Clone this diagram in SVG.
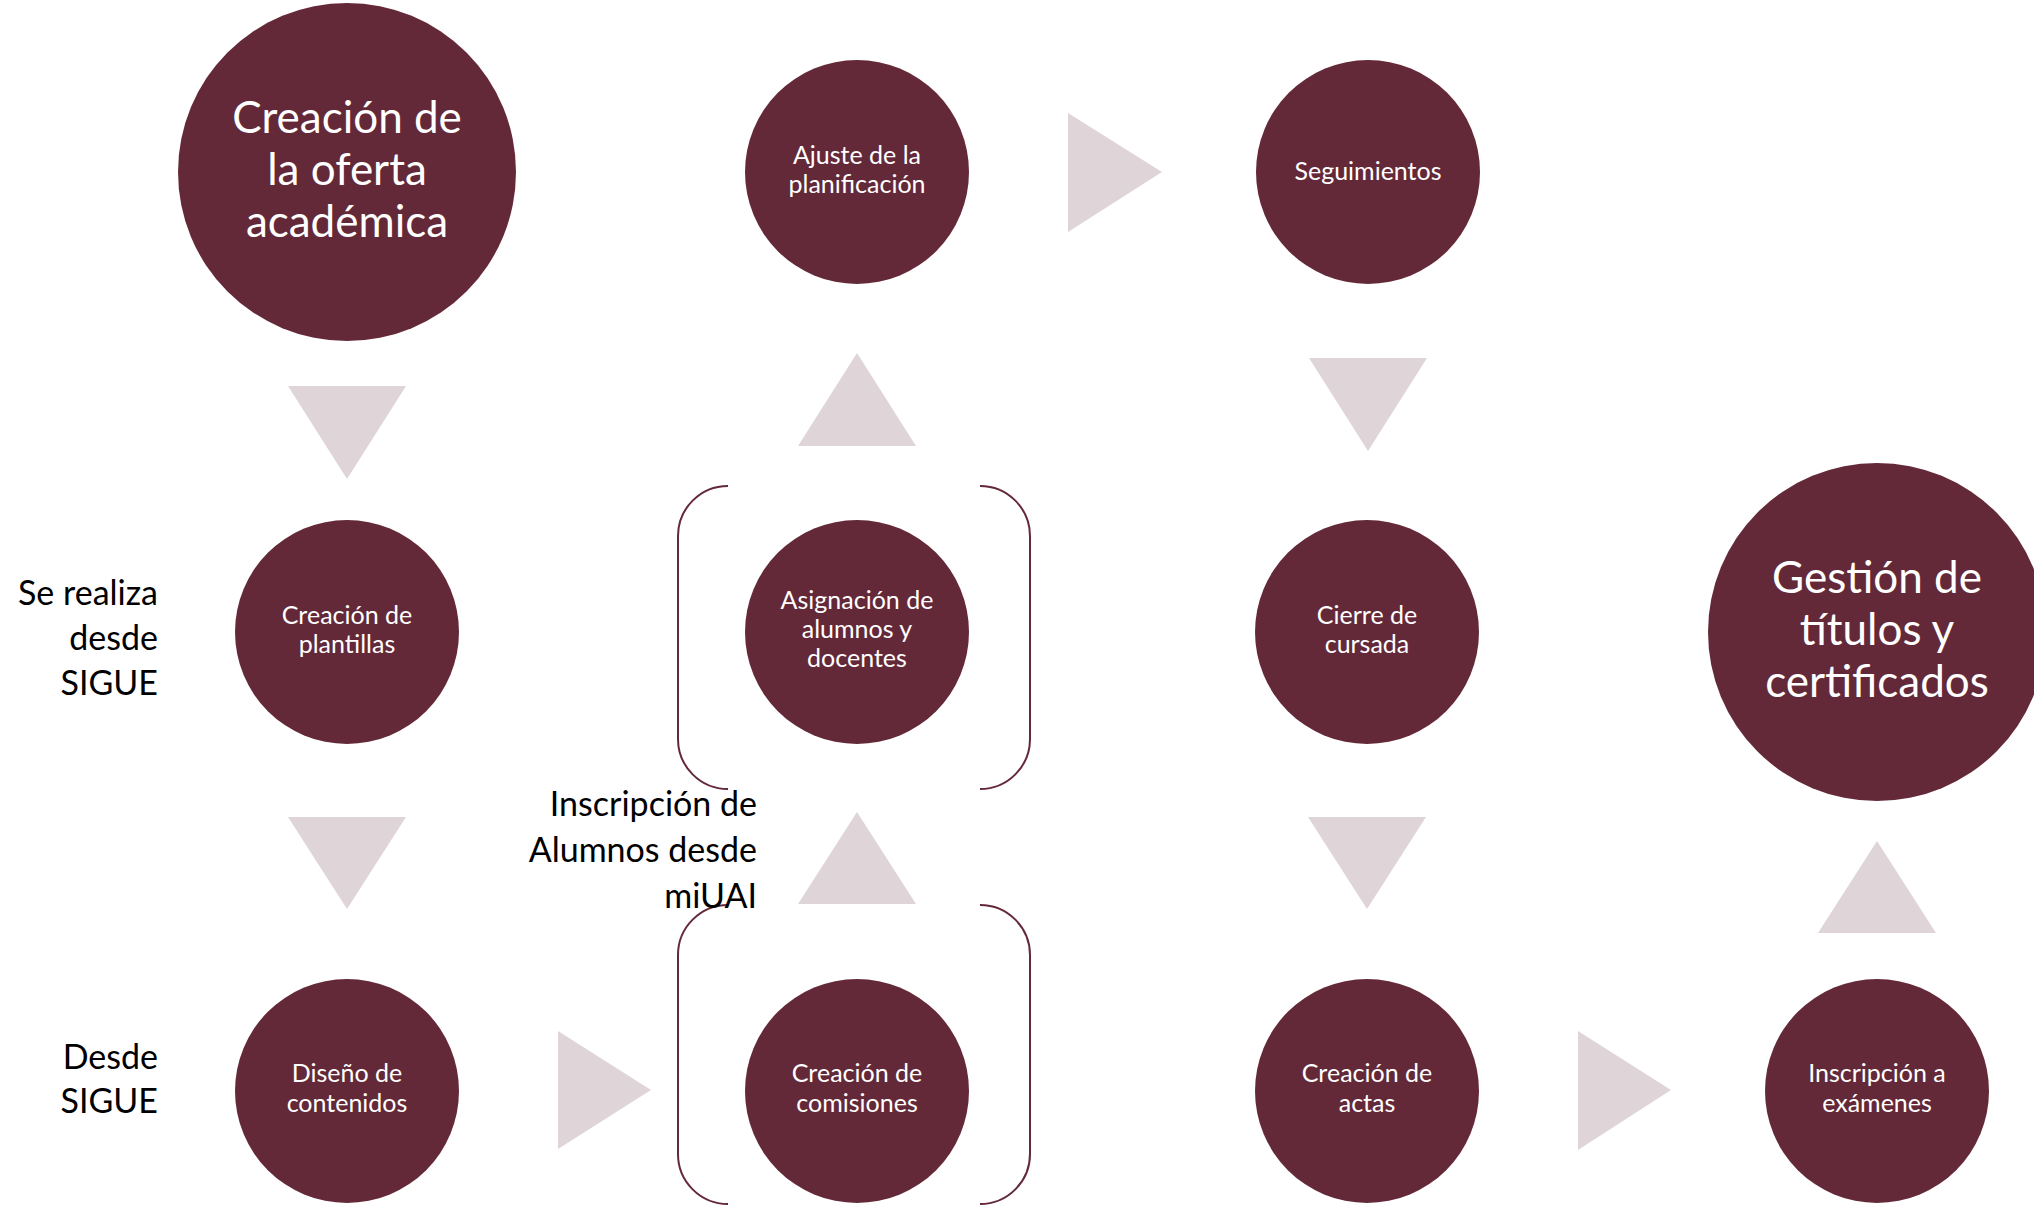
<svg xmlns="http://www.w3.org/2000/svg" width="2034" height="1205" viewBox="0 0 2034 1205">
<style>
.node{fill:#642939}
.arrow{fill:#DFD5D8}
.br{fill:none;stroke:#642939;stroke-width:2}
text{font-family:Lato,"Open Sans","Liberation Sans",sans-serif}
.s{fill:#ffffff;font-size:25px;text-anchor:middle}
.b{fill:#ffffff;font-size:44px;text-anchor:middle}
.l{fill:#000000;font-size:34px;text-anchor:end}
</style>
<rect width="2034" height="1205" fill="#ffffff"/>
<g id="connectors">
<polygon class="arrow" points="288,386 406,386 347,479"/>
<polygon class="arrow" points="288,817 406,817 347,909"/>
<polygon class="arrow" points="558,1031 558,1149 651,1090"/>
<polygon class="arrow" points="798,904 916,904 857,812"/>
<polygon class="arrow" points="798,446 916,446 857,353"/>
<polygon class="arrow" points="1068,113 1068,232 1162,172"/>
<polygon class="arrow" points="1309,358 1427,358 1368,451"/>
<polygon class="arrow" points="1308,817 1426,817 1367,909"/>
<polygon class="arrow" points="1578,1031 1578,1150 1671,1090"/>
<polygon class="arrow" points="1818,933 1936,933 1877,841"/>
</g>
<g id="bracket-top">
<path class="br" d="M728 486 A50 50 0 0 0 678 536 L678 739 A50 50 0 0 0 728 789"/>
<path class="br" d="M980 486 A50 50 0 0 1 1030 536 L1030 739 A50 50 0 0 1 980 789"/>
</g>
<g id="bracket-bottom">
<path class="br" d="M728 905 A50 50 0 0 0 678 955 L678 1154 A50 50 0 0 0 728 1204"/>
<path class="br" d="M980 905 A50 50 0 0 1 1030 955 L1030 1154 A50 50 0 0 1 980 1204"/>
</g>
<g id="n-oferta">
<circle class="node" cx="347" cy="172" r="169"/>
<text class="b" x="347" y="133">Creación de</text>
<text class="b" x="347" y="185">la oferta</text>
<text class="b" x="347" y="237">académica</text>
</g>
<g id="n-ajuste">
<circle class="node" cx="857" cy="172" r="112"/>
<text class="s" x="857" y="164">Ajuste de la</text>
<text class="s" x="857" y="193">planificación</text>
</g>
<g id="n-seguimientos">
<circle class="node" cx="1368" cy="172" r="112"/>
<text class="s" x="1368" y="180">Seguimientos</text>
</g>
<g id="n-plantillas">
<circle class="node" cx="347" cy="632" r="112"/>
<text class="s" x="347" y="624">Creación de</text>
<text class="s" x="347" y="653">plantillas</text>
</g>
<g id="n-asignacion">
<circle class="node" cx="857" cy="632" r="112"/>
<text class="s" x="857" y="609">Asignación de</text>
<text class="s" x="857" y="638">alumnos y</text>
<text class="s" x="857" y="667">docentes</text>
</g>
<g id="n-cierre">
<circle class="node" cx="1367" cy="632" r="112"/>
<text class="s" x="1367" y="624">Cierre de</text>
<text class="s" x="1367" y="653">cursada</text>
</g>
<g id="n-gestion">
<circle class="node" cx="1877" cy="632" r="169"/>
<text class="b" x="1877" y="593">Gestión de</text>
<text class="b" x="1877" y="645">títulos y</text>
<text class="b" x="1877" y="697">certificados</text>
</g>
<g id="n-diseno">
<circle class="node" cx="347" cy="1091" r="112"/>
<text class="s" x="347" y="1082">Diseño de</text>
<text class="s" x="347" y="1112">contenidos</text>
</g>
<g id="n-comisiones">
<circle class="node" cx="857" cy="1091" r="112"/>
<text class="s" x="857" y="1082">Creación de</text>
<text class="s" x="857" y="1112">comisiones</text>
</g>
<g id="n-actas">
<circle class="node" cx="1367" cy="1091" r="112"/>
<text class="s" x="1367" y="1082">Creación de</text>
<text class="s" x="1367" y="1112">actas</text>
</g>
<g id="n-examenes">
<circle class="node" cx="1877" cy="1091" r="112"/>
<text class="s" x="1877" y="1082">Inscripción a</text>
<text class="s" x="1877" y="1112">exámenes</text>
</g>
<g id="labels">
<text class="l" x="158" y="605">Se realiza</text>
<text class="l" x="158" y="650">desde</text>
<text class="l" x="158" y="695">SIGUE</text>
<text class="l" x="158" y="1069">Desde</text>
<text class="l" x="158" y="1113">SIGUE</text>
<text class="l" x="757" y="816">Inscripción de</text>
<text class="l" x="757" y="862">Alumnos desde</text>
<text class="l" x="757" y="908">miUAI</text>
</g>
</svg>
